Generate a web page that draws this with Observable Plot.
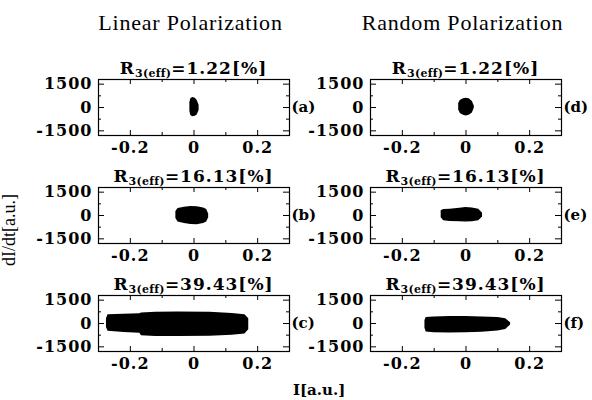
<!DOCTYPE html>
<html><head><meta charset="utf-8">
<script src="https://cdn.jsdelivr.net/npm/d3@7"></script>
<script src="https://cdn.jsdelivr.net/npm/@observablehq/plot@0.6"></script>
<style>
body{margin:0;background:#fff;}
#wrap{position:relative;width:592px;height:400px;overflow:hidden;background:#fff;}
.abs{position:absolute;white-space:nowrap;color:#000;}
.colt{font-family:"Liberation Serif";font-size:22px;line-height:24px;letter-spacing:0.8px;text-align:center;width:260px;}
.pt{font-family:"DejaVu Serif";font-weight:bold;font-size:17px;line-height:18px;letter-spacing:1px;text-align:center;width:220px;}
.pt sub{font-size:11px;vertical-align:-3px;line-height:0;letter-spacing:0.3px;}
.axl{font-family:"Liberation Serif";font-size:18px;line-height:20px;}
.xl{font-family:"DejaVu Serif";font-weight:bold;font-size:15px;line-height:18px;}
</style></head><body><div id="wrap"></div>
<script>
// ---- data ----
const columnTitles = ["Linear Polarization", "Random Polarization"];
const ratioValues = ["1.22", "16.13", "39.43"];
const panelLabels = [["(a)", "(b)", "(c)"], ["(d)", "(e)", "(f)"]];
const xTicks = [-0.2, 0, 0.2];
const xMinorTicks = [-0.1, 0.1];
const yTicks = [-1500, 0, 1500];
const yMinorTicks = [-750, 750];
const xDomain = [-0.3, 0.3];
const yDomain = [-1800, 1800];
const xLabel = "I[a.u.]";
const yLabel = "dI/dt[a.u.]";

// outlines of the point clouds (I, lower dI/dt, upper dI/dt)
const aI    = [-0.013, -0.010, -0.004, 0.004, 0.010, 0.016];
const aLow  = [-250, -520, -600, -560, -480, -200];
const aHigh = [300, 560, 640, 600, 450, 150];

const bI    = [-0.057, -0.050, -0.030, -0.010, 0.010, 0.030, 0.040, 0.046];
const bLow  = [-200, -420, -520, -580, -600, -520, -420, -150];
const bHigh = [250, 450, 530, 580, 560, 480, 380, 100];

const cI    = [-0.275, -0.270, -0.220, -0.170, -0.165, -0.120, -0.050, 0.050, 0.120, 0.160, 0.172];
const cLow  = [-250, -500, -580, -620, -780, -830, -840, -820, -760, -680, -400];
const cHigh = [300, 560, 600, 620, 680, 720, 740, 720, 650, 560, 300];

const dI    = [-0.023, -0.018, -0.008, 0, 0.010, 0.020, 0.026];
const dLow  = [-150, -380, -500, -540, -500, -350, -50];
const dHigh = [250, 450, 560, 600, 560, 380, 100];

const eI    = [-0.078, -0.070, -0.050, -0.020, 0, 0.020, 0.040, 0.052];
const eLow  = [-150, -330, -380, -400, -420, -400, -330, -100];
const eHigh = [300, 380, 400, 470, 520, 480, 400, 150];

const fI    = [-0.129, -0.125, -0.100, -0.050, 0, 0.050, 0.100, 0.125, 0.140];
const fLow  = [-300, -550, -600, -610, -600, -560, -480, -380, -100];
const fHigh = [200, 380, 420, 450, 450, 420, 380, 300, 50];

const blobs = [
  [[aI, aLow, aHigh], [bI, bLow, bHigh], [cI, cLow, cHigh]],
  [[dI, dLow, dHigh], [eI, eLow, eHigh], [fI, fLow, fHigh]]
];

// ---- layout ----
const FW = 191, FH = 56, ML = 62, MR = 30, MT = 10, MB = 26;
const frameLefts = [98, 370];
const frameTops = [79, 187, 295];
const wrap = document.getElementById("wrap");

function makePanel([xs, lo, hi], label) {
  const data = xs.map((x, i) => ({x, y1: lo[i], y2: hi[i]}));
  return Plot.plot({
    width: ML + FW + MR, height: MT + FH + MB,
    marginLeft: ML, marginRight: MR, marginTop: MT, marginBottom: MB,
    style: {fontFamily: "DejaVu Serif", fontWeight: "bold", fontSize: "16px", letterSpacing: "1px", background: "transparent", color: "black", overflow: "visible"},
    x: {domain: xDomain, ticks: xTicks, tickSize: 0, tickPadding: 6, tickFormat: d => String(d), label: null},
    y: {domain: yDomain, ticks: yTicks, tickSize: 0, tickPadding: 6, tickFormat: d => String(d), label: null},
    marks: [
      Plot.areaY(data, {x: "x", y1: "y1", y2: "y2", fill: "black"}),
      Plot.frame({stroke: "black", strokeWidth: 1.2}),
      Plot.tickX(xTicks, {x: d => d, insetTop: FH - 5, stroke: "black"}),
      Plot.tickX(xTicks, {x: d => d, insetBottom: FH - 5, stroke: "black"}),
      Plot.tickX(xMinorTicks, {x: d => d, insetTop: FH - 3, stroke: "black"}),
      Plot.tickX(xMinorTicks, {x: d => d, insetBottom: FH - 3, stroke: "black"}),
      Plot.tickY(yTicks, {y: d => d, insetRight: FW - 6, stroke: "black"}),
      Plot.tickY(yTicks, {y: d => d, insetLeft: FW - 6, stroke: "black"}),
      Plot.tickY(yMinorTicks, {y: d => d, insetRight: FW - 3, stroke: "black"}),
      Plot.tickY(yMinorTicks, {y: d => d, insetLeft: FW - 3, stroke: "black"}),
      Plot.text([label], {text: d => d, frameAnchor: "right", dx: 2, textAnchor: "start", fontSize: 15, fontWeight: "bold", style: "letter-spacing:0"})
    ]
  });
}

function addDiv(cls, html, style) {
  const d = document.createElement("div");
  d.className = "abs " + cls;
  d.innerHTML = html;
  Object.assign(d.style, style);
  wrap.appendChild(d);
  return d;
}

columnTitles.forEach((t, c) => {
  addDiv("colt", t, {left: (frameLefts[c] + FW / 2 - 130 - 3) + "px", top: "11px"});
  ratioValues.forEach((v, r) => {
    const svg = makePanel(blobs[c][r], panelLabels[c][r]);
    svg.style.position = "absolute";
    svg.style.left = (frameLefts[c] - ML) + "px";
    svg.style.top = (frameTops[r] - MT) + "px";
    svg.querySelectorAll("text").forEach(t => { if (/^\(.\)$/.test(t.textContent)) t.setAttribute("letter-spacing", "0"); });
    wrap.appendChild(svg);
    addDiv("pt", `R<sub>3(eff)</sub>=${v}[%]`, {left: (frameLefts[c] + FW / 2 - 110) + "px", top: (frameTops[r] - 20) + "px"});
  });
});

addDiv("axl", yLabel, {left: "9px", top: "230px", transform: "translate(-50%,-50%) rotate(-90deg)"});
addDiv("xl", xLabel, {left: "293px", top: "381px"});
</script></body></html>
